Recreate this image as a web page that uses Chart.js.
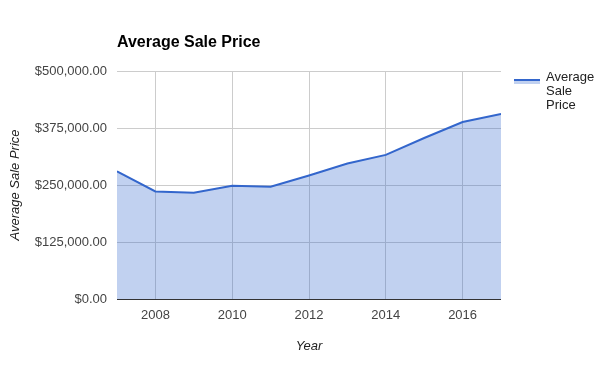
<!DOCTYPE html>
<html>
<head>
<meta charset="utf-8">
<script src="https://cdn.jsdelivr.net/npm/chart.js@4"></script>
<style>
  html, body { margin: 0; padding: 0; background: #fff; }
</style>
</head>
<body>
<canvas id="priceChart" width="616" height="371"></canvas>
<script>
const years = [2007, 2008, 2009, 2010, 2011, 2012, 2013, 2014, 2015, 2016, 2017];
const prices = [280000, 236000, 233000, 248500, 246000, 271000, 297000, 316000, 353000, 388000, 406000];
const xTicks = [2008, 2010, 2012, 2014, 2016];
const yTicks = [0, 125000, 250000, 375000, 500000];
const seriesName = 'Average Sale Price';

const FONT = '"Liberation Sans", Arial, sans-serif';
const lineColor = '#3366cc';
const fillColor = 'rgba(51, 102, 204, 0.3)';

// title + wrapped legend, drawn like google charts does
const extras = {
  id: 'extras',
  afterDraw(chart) {
    const ctx = chart.ctx;
    const area = chart.chartArea;
    ctx.save();
    ctx.fillStyle = '#000';
    ctx.font = 'bold 16px ' + FONT;
    ctx.textBaseline = 'middle';
    ctx.textAlign = 'left';
    ctx.fillText(seriesName, area.left, 43);

    // legend swatch
    ctx.fillStyle = fillColor;
    ctx.fillRect(514, 80, 26, 4);
    ctx.strokeStyle = lineColor;
    ctx.lineWidth = 2;
    ctx.beginPath();
    ctx.moveTo(514, 80);
    ctx.lineTo(540, 80);
    ctx.stroke();

    ctx.fillStyle = '#222';
    ctx.font = '13px ' + FONT;
    seriesName.split(' ').forEach((w, i) => {
      ctx.fillText(w, 546, 77 + i * 14);
    });
    ctx.restore();
  }
};

const ctx = document.getElementById('priceChart').getContext('2d');
new Chart(ctx, {
  type: 'line',
  data: {
    datasets: [{
      label: seriesName,
      data: years.map((y, i) => ({ x: y, y: prices[i] })),
      borderColor: lineColor,
      backgroundColor: fillColor,
      borderWidth: 2,
      fill: 'origin',
      pointRadius: 0,
      tension: 0
    }]
  },
  options: {
    responsive: false,
    animation: false,
    layout: { padding: { top: 71, right: 115, left: 0, bottom: 0 } },
    plugins: {
      legend: { display: false },
      tooltip: { enabled: false }
    },
    scales: {
      x: {
        type: 'linear',
        min: years[0],
        max: years[years.length - 1],
        afterBuildTicks: s => { s.ticks = xTicks.map(v => ({ value: v })); },
        afterFit: s => { s.height = 72; },
        border: { display: false },
        grid: { color: '#cccccc', drawTicks: false },
        ticks: {
          padding: 9,
          color: '#444',
          font: { family: FONT, size: 13 },
          callback: v => String(v)
        },
        title: {
          display: true,
          text: 'Year',
          color: '#222',
          font: { family: FONT, size: 13, style: 'italic' },
          padding: { top: 0, bottom: 17 }
        }
      },
      y: {
        min: 0,
        max: 500000,
        afterBuildTicks: s => { s.ticks = yTicks.map(v => ({ value: v })); },
        afterFit: s => { s.width = 117; },
        border: { display: false },
        grid: {
          color: c => c.tick && c.tick.value === 0 ? '#333333' : '#cccccc',
          drawTicks: false
        },
        ticks: {
          padding: 10,
          color: '#444',
          font: { family: FONT, size: 13 },
          callback: v => '$' + v.toLocaleString('en-US', { minimumFractionDigits: 2, maximumFractionDigits: 2 })
        },
        title: {
          display: true,
          text: seriesName,
          color: '#222',
          font: { family: FONT, size: 13, style: 'italic' },
          padding: { top: 8, bottom: 0 }
        }
      }
    }
  },
  plugins: [extras]
});
</script>
</body>
</html>
